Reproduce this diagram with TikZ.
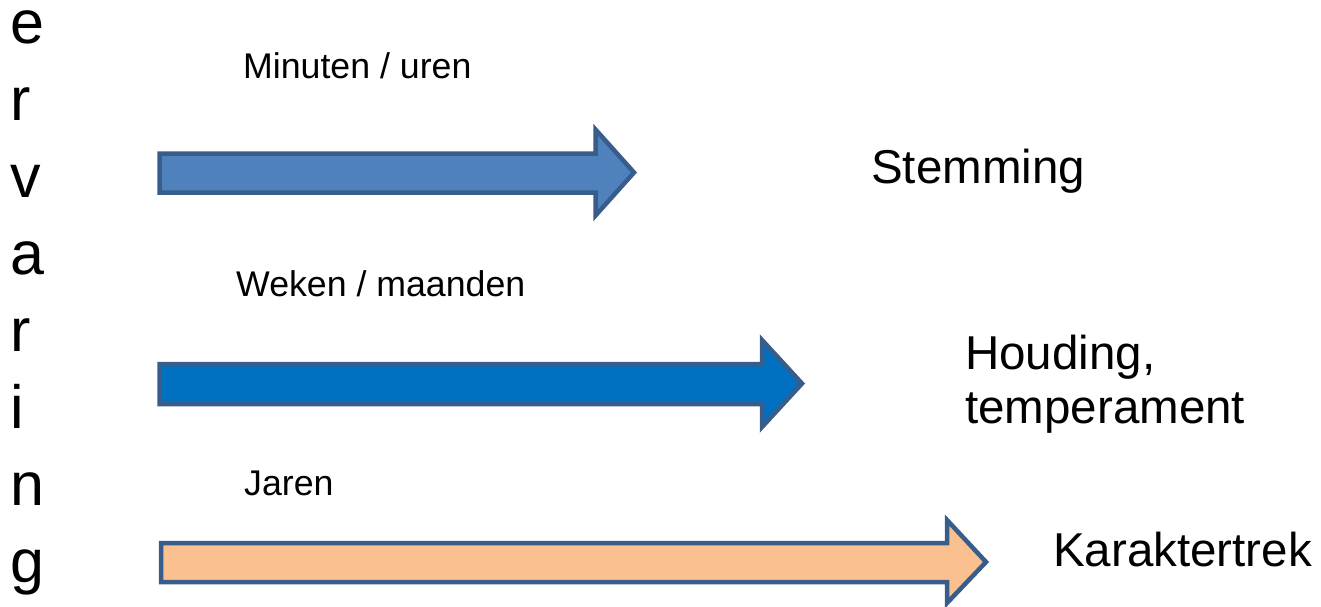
\documentclass[tikz,border=0pt]{standalone}
\usepackage{fontspec}
\setmainfont{Liberation Sans}
\definecolor{edgeblue}{HTML}{385D8A}
\definecolor{fillA}{HTML}{4F81BD}
\definecolor{fillB}{HTML}{0070C0}
\definecolor{fillC}{HTML}{FAC090}
\tikzset{
  blockarrow/.style={draw=edgeblue, line width=4.5pt, line join=miter, miter limit=10},
  smalllbl/.style={anchor=base west, inner sep=0pt, font=\fontsize{35.7}{40}\selectfont},
  biglbl/.style={anchor=base west, inner sep=0pt, align=left, font=\fontsize{47.5}{54}\selectfont},
  vletter/.style={anchor=base west, inner sep=0pt, font=\fontsize{61}{66}\selectfont}
}
\begin{document}
\begin{tikzpicture}[x=1pt,y=-1pt]
\useasboundingbox (0,0) rectangle (1321,606);
% vertical word
\foreach \ch [count=\i from 0] in {e,r,v,a,r,i,n,g}{
  \node[vletter] (L\i) at (10,{43+77*\i}) {\ch};
}
% arrows
\draw[blockarrow, fill=fillA] (159.5,153.5) -- (595.5,153.5) -- (595.5,129.5) -- (634,172.5)
  -- (595.5,215.5) -- (595.5,192.5) -- (159.5,192.5) -- cycle;
\draw[blockarrow, fill=fillB] (159.5,364) -- (762,364) -- (762,340) -- (802,383.5)
  -- (762,427) -- (762,404) -- (159.5,404) -- cycle;
\draw[blockarrow, fill=fillC] (161,543) -- (947,543) -- (947,520) -- (986,562)
  -- (947,603) -- (947,582) -- (161,582) -- cycle;
% labels
\node[smalllbl] (t1) at (243,78) {Minuten / uren};
\node[smalllbl] (t2) at (236,296) {Weken / maanden};
\node[smalllbl] (t3) at (244,495) {Jaren};
\node[biglbl] (s1) at (871,183) {Stemming};
\node[biglbl] (s2) at (965,423) {Houding,\\temperament};
\node[biglbl] (s3) at (1053,566) {Karaktertrek};
\end{tikzpicture}
\end{document}
